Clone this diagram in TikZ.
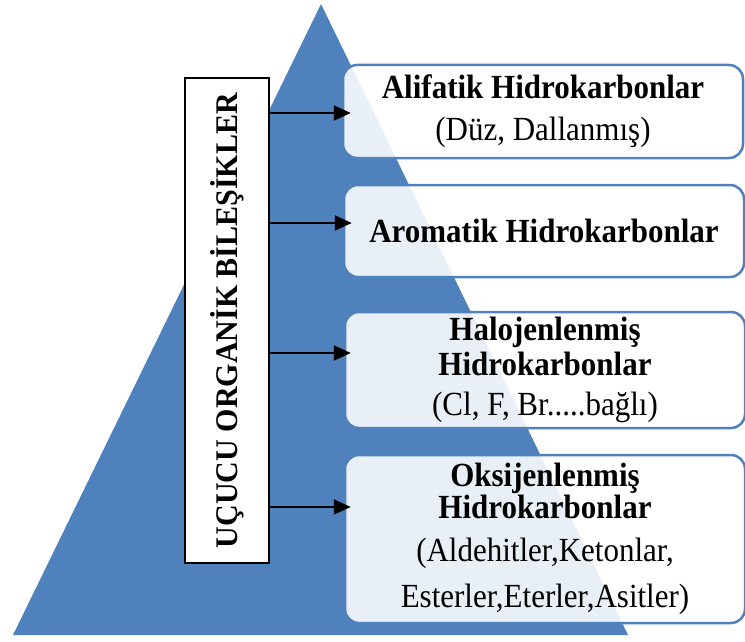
\documentclass[tikz,border=0pt]{standalone}
\usepackage{graphicx}
\usepackage{fontspec}
\setmainfont{Liberation Serif}
\usetikzlibrary{arrows.meta}
\definecolor{triblue}{HTML}{4F81BD}
\newcommand\tline[1]{\scalebox{1}[1.09]{#1}}
\begin{document}
\begin{tikzpicture}[x=1pt,y=-1pt,
  catbox/.style={draw=triblue, line width=2.5pt, rounded corners=14pt, fill=white,
    fill opacity=0.88, text opacity=1, align=center, inner sep=0pt, minimum width=400pt,
    font=\fontsize{31}{35}\selectfont},
  mainbox/.style={draw=black, line width=2pt, fill=white, rotate=90, inner sep=0pt,
    minimum width=485pt, minimum height=84pt, font=\fontsize{30}{35}\selectfont\bfseries},
  arr/.style={-{Triangle[length=17pt,width=15pt]}, line width=2pt}]
\useasboundingbox (0,0) rectangle (745,642);
\fill[triblue] (321,4) -- (628,635) -- (13,635) -- cycle;
\node[mainbox] (main) at (227,320.5) {\scalebox{1.0}[1.05]{UÇUCU ORGANİK BİLEŞİKLER}};
\node[catbox, minimum height=93pt] (b1) at (543,111.5)
  {\tline{\textbf{Alifatik Hidrokarbonlar}}\\[7pt] \tline{(Düz, Dallanmış)}};
\node[catbox, minimum height=92pt] (b2) at (544,231)
  {\tline{\textbf{Aromatik Hidrokarbonlar}}};
\node[catbox, minimum height=116pt] (b3) at (545,370)
  {\tline{\textbf{Halojenlenmiş}}\\[0pt]\tline{\textbf{Hidrokarbonlar}}\\[5pt] \tline{(Cl, F, Br.....bağlı)}};
\node[catbox, minimum height=168pt] (b4) at (545,539)
  {\tline{\textbf{Oksijenlenmiş}}\\[-3pt]\tline{\textbf{Hidrokarbonlar}}\\[8pt] \tline{(Aldehitler,Ketonlar,}\\[11pt] \tline{Esterler,Eterler,Asitler)}};
\coordinate (a1) at (0,113);
\coordinate (a2) at (0,223);
\coordinate (a3) at (0,353);
\coordinate (a4) at (0,507);
\draw[arr] (main.south |- a1) -- ([xshift=9pt]b1.west |- a1);
\draw[arr] (main.south |- a2) -- ([xshift=9pt]b2.west |- a2);
\draw[arr] (main.south |- a3) -- ([xshift=7pt]b3.west |- a3);
\draw[arr] (main.south |- a4) -- ([xshift=7pt]b4.west |- a4);
\end{tikzpicture}
\end{document}
